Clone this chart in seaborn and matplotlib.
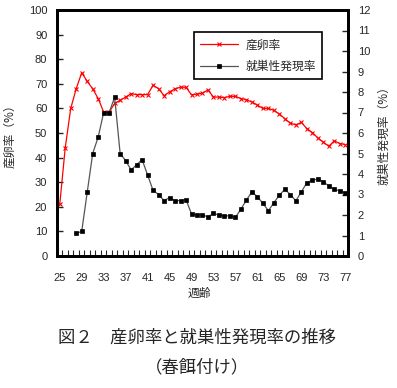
import numpy as np
import pandas as pd
import matplotlib
matplotlib.use("Agg")
import matplotlib.pyplot as plt
import seaborn as sns

weeks = list(range(25, 78))
egg_rate = [21, 44, 60, 68, 74.5, 71, 68, 64, 58.5, 58.5,
            62, 63.3, 64.6, 66, 65.6, 65.6, 65.6, 69.4, 68, 65.2,
            66.7, 68, 68.6, 68.6, 65.5, 65.8, 66.2, 67.5, 64.6, 64.6,
            64.4, 64.9, 64.9, 64, 63.5, 62.6, 61.3, 60, 60, 59.2,
            57.7, 55.8, 54, 53.3, 54.3, 51.8, 50.2, 48, 46.3, 44.6,
            46.8, 45.7, 45.3]
brood_weeks = list(range(28, 78))
brood_rate = [1.1, 1.2, 3.1, 5.0, 5.8, 7.0, 7.0, 7.75, 5.0, 4.65,
              4.2, 4.45, 4.7, 3.95, 3.2, 3.0, 2.7, 2.85, 2.7, 2.7,
              2.75, 2.05, 2.0, 2.0, 1.91, 2.08, 2.0, 1.96, 1.96, 1.88,
              2.29, 2.73, 3.13, 2.89, 2.57, 2.21, 2.6, 2.97, 3.25, 3.0,
              2.69, 3.13, 3.57, 3.7, 3.75, 3.62, 3.42, 3.25, 3.18, 3.08]
xtick_labels = list(range(25, 78, 4))
label_egg = "産卵率"
label_brood = "就巣性発現率"

sns.set_style("white")
plt.rcParams['font.family'] = ['Noto Sans CJK JP', 'DejaVu Sans']

df_egg = pd.DataFrame({"week": weeks, "rate": egg_rate})
df_brood = pd.DataFrame({"week": brood_weeks, "rate": brood_rate})

fig = plt.figure(figsize=(3.97, 3.88), dpi=100)
ax = fig.add_axes([57/397, 1-256/388, 291/397, 246/388])
ax2 = ax.twinx()

sns.lineplot(data=df_egg, x="week", y="rate", ax=ax, color="#ff0000",
             marker="x", ms=3.2, mew=0.8, mec="#ff0000", linewidth=0.9,
             label=label_egg, legend=False)
sns.lineplot(data=df_brood, x="week", y="rate", ax=ax2, color="#555555",
             marker="s", ms=3.2, mfc="black", mec="black", mew=0.5,
             linewidth=0.9, label=label_brood, legend=False)

ax.set_xlim(24.5, 77.5)
ax.set_ylim(0, 100)
ax2.set_ylim(0, 12)

tick_font = dict(family=['Liberation Sans', 'DejaVu Sans'], size=8)

ax.set_yticks(range(0, 101, 10))
ax.set_yticklabels([str(v) for v in range(0, 101, 10)], **tick_font)
ax2.set_yticks(range(0, 13))
ax2.set_yticklabels([str(v) for v in range(0, 13)], **tick_font)
ax.set_xticks(xtick_labels)
ax.set_xticklabels([str(v) for v in xtick_labels], **tick_font)
ax.set_xticks(np.arange(24.5, 78, 1), minor=True)

ax.tick_params(axis='x', which='major', length=0, pad=12)
ax.tick_params(axis='x', which='minor', direction='in', length=4, width=0.8, bottom=True)
ax.tick_params(axis='y', direction='in', length=4, width=1, pad=7, left=True)
ax2.tick_params(axis='y', direction='in', length=4, width=1, pad=7, right=True)

for a in (ax, ax2):
    for s in a.spines.values():
        s.set_visible(True)
        s.set_color('black')
        s.set_linewidth(2)
ax.grid(False)
ax2.grid(False)

ax.set_xlabel("週齢", fontsize=8.5)
ax.xaxis.set_label_coords(0.49, -0.125)
ax.set_ylabel("産卵率（%）", fontsize=8.5)
ax.yaxis.set_label_coords(-0.14, 0.5)
ax2.set_ylabel("就巣性発現率（%）", fontsize=8.5)
ax2.yaxis.set_label_coords(1.10, 0.5)

h1, l1 = ax.get_legend_handles_labels()
h2, l2 = ax2.get_legend_handles_labels()
leg = fig.legend(h1 + h2, l1 + l2, loc='upper left',
                 bbox_to_anchor=(194/397, 1-32/388), fontsize=8.5,
                 frameon=True, fancybox=False, edgecolor='black',
                 framealpha=1, handlelength=3.2, borderpad=0.55,
                 labelspacing=0.7, handletextpad=0.6, borderaxespad=0)
leg.get_frame().set_linewidth(1.2)

fig.text(197/397, 1-338/388, "図２　産卵率と就巣性発現率の推移",
         ha='center', va='center', fontsize=12.5)
fig.text(197/397, 1-367/388, "（春餌付け）",
         ha='center', va='center', fontsize=12.5)

fig.savefig("out.png", dpi=100)
